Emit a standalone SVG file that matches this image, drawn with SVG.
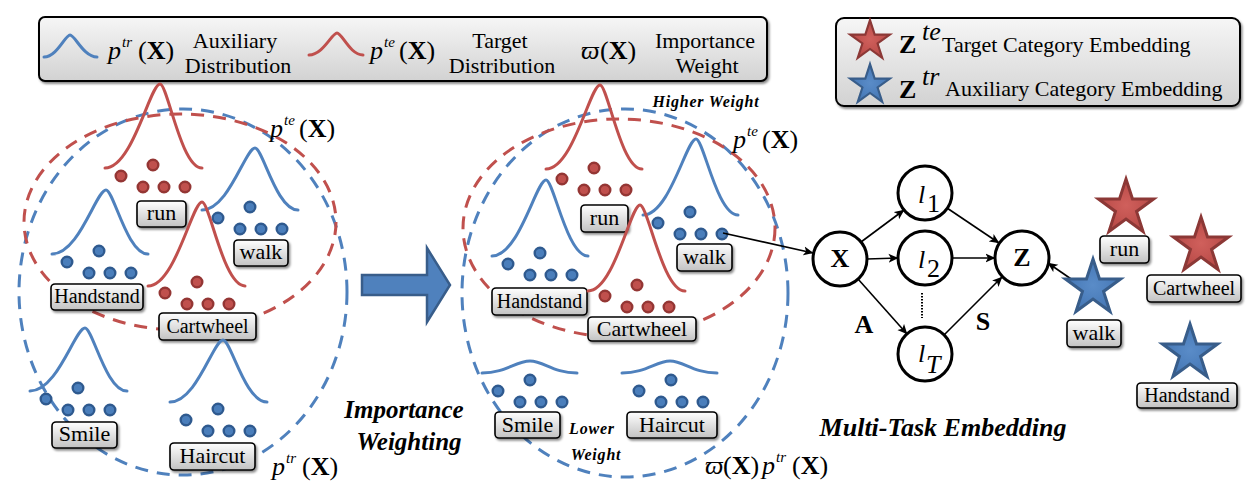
<svg xmlns="http://www.w3.org/2000/svg" width="1254" height="493" viewBox="0 0 1254 493" font-family="'Liberation Serif', 'Times New Roman', Times, 'Noto Serif', 'DejaVu Serif', serif">
<defs>
<style>
text{font-family:'Liberation Serif','Times New Roman',Times,'Noto Serif','DejaVu Serif',serif}
.lab{font-size:22px;text-anchor:middle;fill:#000}
.sm{font-size:20px}
.box{fill:url(#boxg);stroke:#000;stroke-width:1.6;filter:url(#sh)}
.leg{fill:url(#legg);stroke:#000;stroke-width:2;filter:url(#sh)}
.bc{fill:none;stroke:#4f81bd;stroke-width:3;stroke-linecap:round}
.rc{fill:none;stroke:#c0504d;stroke-width:3;stroke-linecap:round}
.bdash{fill:none;stroke:#4f81bd;stroke-width:3;stroke-dasharray:13 9}
.rdash{fill:none;stroke:#c0504d;stroke-width:3;stroke-dasharray:13 9}
.bdot{fill:#4a7ebb;stroke:#2f5a8f;stroke-width:2.4}
.rdot{fill:#c0504d;stroke:#943634;stroke-width:2.4}
.math{font-size:26px;fill:#000}
.it{font-style:italic}
.b{font-weight:bold}
.txt{font-size:22px;fill:#000}
.bi{font-weight:bold;font-style:italic;fill:#000}
.node{fill:#fff;stroke:#000;stroke-width:3}
.conn{stroke:#000;stroke-width:1.6;fill:none;marker-end:url(#ah)}
.rstar{fill:url(#rsg);stroke:#8c3836;stroke-width:3;stroke-linejoin:miter}
.bstar{fill:url(#bsg);stroke:#385d8a;stroke-width:3;stroke-linejoin:miter}
</style>
<linearGradient id="boxg" x1="0" y1="0" x2="0" y2="1"><stop offset="0" stop-color="#ffffff"/><stop offset="1" stop-color="#c2c2c2"/></linearGradient>
<linearGradient id="legg" x1="0" y1="0" x2="0" y2="1"><stop offset="0" stop-color="#f6f6f6"/><stop offset="1" stop-color="#d2d2d2"/></linearGradient>
<radialGradient id="rsg"><stop offset="0" stop-color="#d0605c"/><stop offset="1" stop-color="#b84a47"/></radialGradient>
<radialGradient id="bsg"><stop offset="0" stop-color="#5a8cc8"/><stop offset="1" stop-color="#4577b5"/></radialGradient>
<filter id="sh" x="-10%" y="-10%" width="130%" height="150%"><feDropShadow dx="1.5" dy="2" stdDeviation="1.2" flood-color="#000" flood-opacity="0.45"/></filter>
<marker id="ah" viewBox="0 0 10 10" refX="9.5" refY="5" markerWidth="10" markerHeight="10" markerUnits="userSpaceOnUse" orient="auto"><path d="M0,0.5 L10,5 L0,9.5 L2.5,5 z" fill="#000"/></marker>
<g id="bd" class="bdot"><circle cx="0" cy="0" r="5.3"/><circle cx="-32" cy="11" r="5.3"/><circle cx="-10" cy="22" r="5.3"/><circle cx="11" cy="22" r="5.3"/><circle cx="32" cy="22" r="5.3"/></g>
<g id="rd" class="rdot"><circle cx="0" cy="0" r="5.3"/><circle cx="-32" cy="11" r="5.3"/><circle cx="-10" cy="22" r="5.3"/><circle cx="11" cy="22" r="5.3"/><circle cx="32" cy="22" r="5.3"/></g>
<path id="star" d="M0,-29 L6.51,-8.96 L27.58,-8.96 L10.54,3.42 L17.05,23.46 L0,11.08 L-17.05,23.46 L-10.54,3.42 L-27.58,-8.96 L-6.51,-8.96 Z"/>
</defs>
<rect width="1254" height="493" fill="#fff"/>

<!-- legend 1 -->
<g id="legend-distributions">
<rect class="leg" x="39" y="17" width="728" height="64" rx="6"/>
<path class="bc" d="M44,57 C57,57 65.3,35 70,35 C74.9,35 83.5,57 97,57"/>
<text class="math" y="59"><tspan class="it" x="108">p</tspan><tspan class="it" x="122" y="47" font-size="15">tr</tspan><tspan x="138" y="59">(</tspan><tspan class="b">X</tspan><tspan>)</tspan></text>
<text class="lab" x="235" y="48">Auxiliary</text>
<text class="lab" x="238" y="73">Distribution</text>
<path class="rc" d="M309,55 C323,55 332,33 337,33 C342,33 350,55 363,55"/>
<text class="math" y="59"><tspan class="it" x="370">p</tspan><tspan class="it" x="384" y="47" font-size="15">te</tspan><tspan x="399" y="59">(</tspan><tspan class="b">X</tspan><tspan>)</tspan></text>
<text class="lab" x="500" y="48">Target</text>
<text class="lab" x="502" y="73">Distribution</text>
<text class="math" y="59"><tspan class="it" x="581">ϖ</tspan><tspan x="600">(</tspan><tspan class="b">X</tspan><tspan>)</tspan></text>
<text class="lab" x="705" y="48">Importance</text>
<text class="lab" x="707" y="73">Weight</text>
</g>

<!-- legend 2 -->
<g id="legend-embeddings">
<rect class="leg" x="836" y="18" width="404" height="88" rx="8"/>
<use href="#star" class="rstar" transform="translate(870,41) scale(0.72)"/>
<use href="#star" class="bstar" transform="translate(870,85) scale(0.72)"/>
<text class="math b" x="899" y="53" font-size="31">Z</text>
<text class="math it" x="922" y="40" font-size="16">te</text>
<text class="txt" x="942" y="52">Target Category Embedding</text>
<text class="math b" x="899" y="98" font-size="31">Z</text>
<text class="math it" x="922" y="85" font-size="16">tr</text>
<text class="txt" x="945" y="96">Auxiliary Category Embedding</text>
</g>

<!-- left cluster -->
<g id="left-distributions">
<ellipse class="bdash" cx="183" cy="292" rx="164" ry="183"/>
<ellipse class="rdash" cx="180" cy="222" rx="156" ry="108"/>
<text class="math" y="137"><tspan class="it" x="270">p</tspan><tspan class="it" x="284" y="125" font-size="15">te</tspan><tspan x="299" y="137">(</tspan><tspan class="b">X</tspan><tspan>)</tspan></text>
<text class="math" y="475"><tspan class="it" x="272">p</tspan><tspan class="it" x="286" y="463" font-size="15">tr</tspan><tspan x="302" y="475">(</tspan><tspan class="b">X</tspan><tspan>)</tspan></text>
</g>
<g id="left-run">
<path class="rc" d="M105,168 C132.5,168 150.1,84 160,84 C167.6,84 181,168 202,168"/>
<use href="#rd" x="153" y="165"/>
<rect class="box" x="137" y="201" width="49" height="26" rx="4"/>
<text class="lab" x="161.5" y="220">run</text>
</g>
<g id="left-walk">
<path class="bc" d="M202,210 C228.5,210 245.5,148 255,148 C262.7,148 276.5,210 298,210"/>
<use href="#bd" x="250" y="207"/>
<rect class="box" x="234" y="240" width="54" height="26" rx="4"/>
<text class="lab" x="261" y="259">walk</text>
</g>
<g id="left-handstand">
<path class="bc" d="M52,254 C79,254 96.3,190 106,190 C113.6,190 127,254 148,254"/>
<use href="#bd" x="99" y="251"/>
<rect class="box" x="51" y="284" width="92" height="26" rx="4"/>
<text class="lab sm" x="97" y="303">Handstand</text>
</g>
<g id="left-cartwheel">
<path class="rc" d="M148,286 C175,286 192.3,202 202,202 C209.7,202 223.5,286 245,286"/>
<use href="#rd" x="197" y="282"/>
<rect class="box" x="159" y="313" width="97" height="27" rx="4"/>
<text class="lab sm" x="207.5" y="333">Cartwheel</text>
</g>
<g id="left-smile">
<path class="bc" d="M30,391 C57.5,391 75.1,328 85,328 C92.6,328 106,391 127,391"/>
<use href="#bd" x="78" y="388"/>
<rect class="box" x="52" y="422" width="65" height="26" rx="4"/>
<text class="lab" x="84.5" y="441">Smile</text>
</g>
<g id="left-haircut">
<path class="bc" d="M170,402 C196.5,402 213.5,340 223,340 C230.9,340 245,402 267,402"/>
<use href="#bd" x="218" y="409"/>
<rect class="box" x="170" y="443" width="85" height="27" rx="4"/>
<text class="lab" x="212.5" y="463">Haircut</text>
</g>

<!-- importance weighting arrow -->
<g id="weighting-arrow">
<polygon points="362,275 427,275 427,248 450,285 427,322 427,295 362,295" fill="#4f81bd" stroke="#385d8a" stroke-width="2.5" stroke-linejoin="miter"/>
<text class="bi" x="404" y="418" font-size="25" text-anchor="middle">Importance</text>
<text class="bi" x="409" y="450" font-size="25" text-anchor="middle">Weighting</text>
</g>

<!-- middle cluster -->
<g id="mid-distributions">
<ellipse class="bdash" cx="625" cy="293" rx="163" ry="184"/>
<ellipse class="rdash" cx="619" cy="228" rx="156" ry="109"/>
<text class="bi" x="706" y="107" font-size="16" text-anchor="middle" letter-spacing="0.8">Higher Weight</text>
<text class="math" y="148"><tspan class="it" x="733">p</tspan><tspan class="it" x="747" y="136" font-size="15">te</tspan><tspan x="762" y="148">(</tspan><tspan class="b">X</tspan><tspan>)</tspan></text>
<text class="math" y="474"><tspan class="it" x="705">ϖ</tspan><tspan x="723">(</tspan><tspan class="b">X</tspan><tspan>)</tspan><tspan class="it" x="762">p</tspan><tspan class="it" x="776" y="462" font-size="15">tr</tspan><tspan x="792" y="474">(</tspan><tspan class="b">X</tspan><tspan>)</tspan></text>
<text class="bi" x="592" y="434" font-size="16" text-anchor="middle" letter-spacing="0.8">Lower</text>
<text class="bi" x="596" y="460" font-size="16" text-anchor="middle" letter-spacing="0.8">Weight</text>
</g>
<g id="mid-run">
<path class="rc" d="M546,169 C573,169 590.3,85 600,85 C607.6,85 621,169 642,169"/>
<use href="#rd" x="594" y="168"/>
<rect class="box" x="581" y="205" width="47" height="27" rx="4"/>
<text class="lab" x="604.5" y="225">run</text>
</g>
<g id="mid-walk">
<path class="bc" d="M643,215 C669.5,215 686.5,139 696,139 C703.6,139 717,215 738,215"/>
<use href="#bd" x="690" y="212"/>
<rect class="box" x="677" y="244" width="55" height="27" rx="4"/>
<text class="lab" x="704.5" y="264">walk</text>
</g>
<g id="mid-handstand">
<path class="bc" d="M492,256 C519,256 536.3,180 546,180 C553.6,180 567,256 588,256"/>
<use href="#bd" x="540" y="253"/>
<rect class="box" x="492" y="288" width="95" height="27" rx="4"/>
<text class="lab sm" x="539.5" y="308">Handstand</text>
</g>
<g id="mid-cartwheel">
<path class="rc" d="M588,291 C614,291 630.6,205 640,205 C648.1,205 662.5,291 685,291"/>
<use href="#rd" x="637" y="285"/>
<rect class="box" x="588" y="317" width="108" height="24" rx="4"/>
<text class="lab" x="642" y="336">Cartwheel</text>
</g>
<g id="mid-smile">
<path class="bc" d="M482,373 C506,373 515.6,361 530,361 C544,361 553,373 577,373"/>
<use href="#bd" x="530" y="380"/>
<rect class="box" x="495" y="412" width="65" height="26" rx="4"/>
<text class="lab" x="527.5" y="432">Smile</text>
</g>
<g id="mid-haircut">
<path class="bc" d="M622,373 C646,373 656,361 670,361 C684,361 693,373 717,373"/>
<use href="#bd" x="671" y="380"/>
<rect class="box" x="627" y="412" width="90" height="26" rx="4"/>
<text class="lab" x="672" y="432">Haircut</text>
</g>

<!-- connectors -->
<g id="connectors">
<line class="conn" x1="723" y1="233" x2="813" y2="253"/>
<line class="conn" x1="861" y1="242" x2="904" y2="210"/>
<line class="conn" x1="867" y1="259" x2="898" y2="258"/>
<line class="conn" x1="858" y1="279" x2="907" y2="334"/>
<line class="conn" x1="947" y1="208" x2="999" y2="243"/>
<line class="conn" x1="952" y1="258" x2="995" y2="258"/>
<line class="conn" x1="944" y1="335" x2="1002" y2="277"/>
<line class="conn" x1="1074" y1="281" x2="1048" y2="263"/>
<line x1="922" y1="293" x2="922" y2="318" stroke="#000" stroke-width="2" stroke-dasharray="1.5 1.5"/>
</g>

<!-- graph nodes -->
<g id="node-x">
<circle class="node" cx="840" cy="259" r="27"/>
<text class="math b" x="840" y="267" font-size="22" text-anchor="middle">X</text>
</g>
<g id="node-l1">
<circle class="node" cx="925" cy="193" r="27"/>
<text class="math it" x="918" y="203" font-size="26">l</text>
<text class="math" x="927" y="212" font-size="16">1</text>
</g>
<g id="node-l2">
<circle class="node" cx="925" cy="258" r="27"/>
<text class="math it" x="918" y="268" font-size="26">l</text>
<text class="math" x="927" y="277" font-size="16">2</text>
</g>
<g id="node-lT">
<circle class="node" cx="925" cy="354" r="27"/>
<text class="math it" x="918" y="362" font-size="26">l</text>
<text class="math it" x="926" y="373" font-size="16">T</text>
</g>
<g id="node-z">
<circle class="node" cx="1022" cy="258" r="27"/>
<text class="math b" x="1022" y="266" font-size="22" text-anchor="middle">Z</text>
</g>
<g id="graph-labels">
<text class="math b" x="864" y="333" font-size="24" text-anchor="middle">A</text>
<text class="math b" x="983" y="330" font-size="24" text-anchor="middle">S</text>
<text class="bi" x="943" y="436" font-size="26" text-anchor="middle">Multi-Task Embedding</text>
</g>

<!-- embeddings -->
<g id="emb-run">
<use href="#star" class="rstar" transform="translate(1126,208)"/>
<rect class="box" x="1100" y="236" width="49" height="27" rx="4"/>
<text class="lab" x="1124.5" y="256">run</text>
</g>
<g id="emb-cartwheel">
<use href="#star" class="rstar" transform="translate(1201,246)"/>
<rect class="box" x="1147" y="275" width="94" height="27" rx="4"/>
<text class="lab sm" x="1194" y="295">Cartwheel</text>
</g>
<g id="emb-walk">
<use href="#star" class="bstar" transform="translate(1093,288)"/>
<rect class="box" x="1067" y="320" width="54" height="27" rx="4"/>
<text class="lab" x="1094" y="340">walk</text>
</g>
<g id="emb-handstand">
<use href="#star" class="bstar" transform="translate(1190,353)"/>
<rect class="box" x="1137" y="383" width="100" height="25" rx="4"/>
<text class="lab sm" x="1187" y="402">Handstand</text>
</g>
</svg>
